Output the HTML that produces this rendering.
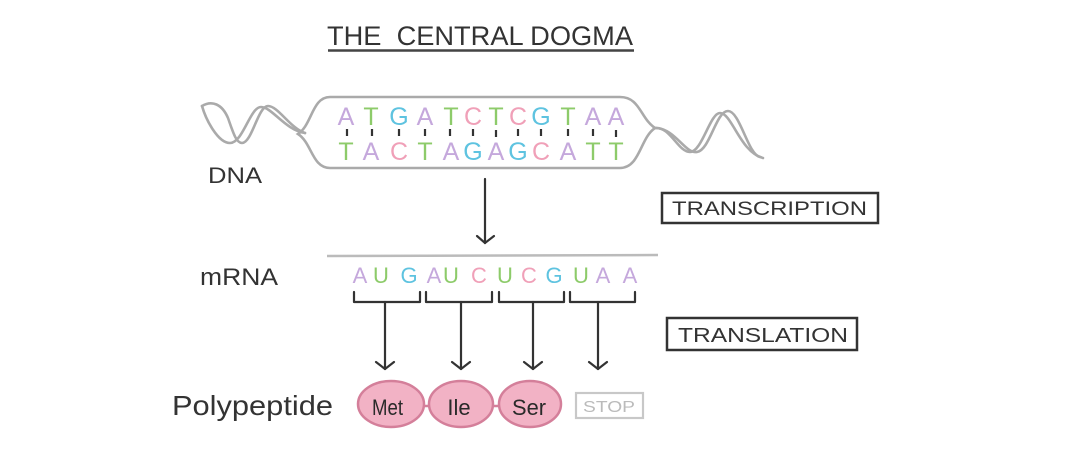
<!DOCTYPE html>
<html><head><meta charset="utf-8"><style>
html,body{margin:0;padding:0;background:#fff;}
svg{display:block;}
text{font-family:"Liberation Sans",sans-serif;}
</style></head><body>
<svg width="1076" height="452" viewBox="0 0 1076 452" xmlns="http://www.w3.org/2000/svg">
<rect width="1076" height="452" fill="#fff"/>
<!-- Title -->
<text x="327" y="45" font-size="27" fill="#333" textLength="306" lengthAdjust="spacingAndGlyphs" xml:space="preserve">THE  CENTRAL DOGMA</text>
<line x1="328" y1="50.5" x2="634" y2="50.5" stroke="#444" stroke-width="2.5"/>

<!-- DNA helices -->
<g fill="none" stroke="#aaa" stroke-width="2.6" stroke-linecap="round">
<path d="M202 106 C206 120 218 143 230 143 C243 143 250 107 261 107 C272 107 285 130 305 133"/>
<path d="M202 106 C212 100 222 104 228 118 C233 132 236 143 242 143 C252 143 258 106 268 106 C278 106 290 128 305 133"/>
<path d="M330 97 L620 97 C640 97 640 118 655 128 C640 138 640 168 620 168 L330 168 C312 168 312 143 298 134 C312 125 312 97 330 97 Z"/>
<path d="M655 128 C670 126 678 152 690 152 C702 152 710 113 720 113 C732 113 740 152 763 158"/>
<path d="M655 128 C675 128 685 154 697 152 C710 150 716 111 728 111 C740 111 748 155 760 157"/>
</g>

<!-- DNA letters -->
<g font-size="25" text-anchor="middle">
<text x="346" y="125" fill="#c5a8dc">A</text>
<text x="371" y="125" fill="#8dcb6a">T</text>
<text x="399" y="125" fill="#5ec3e0">G</text>
<text x="425" y="125" fill="#c5a8dc">A</text>
<text x="451" y="125" fill="#8dcb6a">T</text>
<text x="473" y="125" fill="#f0a0b8">C</text>
<text x="496" y="125" fill="#8dcb6a">T</text>
<text x="518" y="125" fill="#f0a0b8">C</text>
<text x="541" y="125" fill="#5ec3e0">G</text>
<text x="568" y="125" fill="#8dcb6a">T</text>
<text x="593" y="125" fill="#c5a8dc">A</text>
<text x="616" y="125" fill="#c5a8dc">A</text>

<text x="346" y="160" fill="#8dcb6a">T</text>
<text x="371" y="160" fill="#c5a8dc">A</text>
<text x="399" y="160" fill="#f0a0b8">C</text>
<text x="425" y="160" fill="#8dcb6a">T</text>
<text x="451" y="160" fill="#c5a8dc">A</text>
<text x="473" y="160" fill="#5ec3e0">G</text>
<text x="496" y="160" fill="#c5a8dc">A</text>
<text x="518" y="160" fill="#5ec3e0">G</text>
<text x="541" y="160" fill="#f0a0b8">C</text>
<text x="568" y="160" fill="#c5a8dc">A</text>
<text x="593" y="160" fill="#8dcb6a">T</text>
<text x="616" y="160" fill="#8dcb6a">T</text>
</g>
<g stroke="#333" stroke-width="2.2">
<line x1="347" y1="129" x2="347" y2="136"/>
<line x1="372" y1="129" x2="372" y2="136"/>
<line x1="399" y1="129" x2="399" y2="136"/>
<line x1="425" y1="129" x2="425" y2="136"/>
<line x1="450" y1="129" x2="450" y2="136"/>
<line x1="473" y1="129" x2="473" y2="136"/>
<line x1="496" y1="130" x2="496" y2="137"/>
<line x1="518" y1="129" x2="518" y2="136"/>
<line x1="541" y1="129" x2="541" y2="136"/>
<line x1="568" y1="129" x2="568" y2="136"/>
<line x1="593" y1="129" x2="593" y2="136"/>
<line x1="616" y1="130" x2="616" y2="137"/>
</g>

<text x="208" y="183" font-size="22" fill="#333" textLength="54" lengthAdjust="spacingAndGlyphs">DNA</text>

<!-- Transcription arrow -->
<g stroke="#333" stroke-width="2.2" fill="none" stroke-linecap="round">
<line x1="485" y1="179" x2="485" y2="243"/>
<polyline points="477,236 485,243 494,236"/>
</g>

<rect x="662" y="193" width="216" height="30" fill="none" stroke="#333" stroke-width="2.5"/>
<text x="672" y="215" font-size="19" fill="#333" textLength="195" lengthAdjust="spacingAndGlyphs">TRANSCRIPTION</text>

<!-- mRNA -->
<line x1="327" y1="256" x2="658" y2="255" stroke="#bbb" stroke-width="2.5"/>
<text x="200" y="285" font-size="24" fill="#333" textLength="78" lengthAdjust="spacingAndGlyphs">mRNA</text>
<g font-size="22" text-anchor="middle">
<text x="360" y="283" fill="#c5a8dc">A</text>
<text x="381" y="283" fill="#8dcb6a">U</text>
<text x="409" y="283" fill="#5ec3e0">G</text>
<text x="434" y="283" fill="#c5a8dc">A</text>
<text x="451" y="283" fill="#8dcb6a">U</text>
<text x="479" y="283" fill="#f0a0b8">C</text>
<text x="505" y="283" fill="#8dcb6a">U</text>
<text x="529" y="283" fill="#f0a0b8">C</text>
<text x="554" y="283" fill="#5ec3e0">G</text>
<text x="581" y="283" fill="#8dcb6a">U</text>
<text x="603" y="283" fill="#c5a8dc">A</text>
<text x="630" y="283" fill="#c5a8dc">A</text>
</g>

<!-- brackets and arrows -->
<g stroke="#333" stroke-width="2.2" fill="none" stroke-linecap="round" stroke-linejoin="round">
<polyline points="354,292 354,302 420,302 420,292"/>
<polyline points="426,292 426,302 492,302 492,292"/>
<polyline points="499,292 499,302 564,302 564,292"/>
<polyline points="570,292 570,302 635,302 635,292"/>
<line x1="385" y1="302" x2="385" y2="369"/>
<polyline points="376,362 385,369 394,362"/>
<line x1="461" y1="302" x2="461" y2="369"/>
<polyline points="452,362 461,369 470,362"/>
<line x1="533" y1="302" x2="533" y2="369"/>
<polyline points="524,362 533,369 542,362"/>
<line x1="598" y1="302" x2="598" y2="369"/>
<polyline points="589,362 598,369 607,362"/>
</g>

<rect x="667" y="318" width="190" height="32" fill="none" stroke="#333" stroke-width="2.5"/>
<text x="678" y="342" font-size="20" fill="#333" textLength="170" lengthAdjust="spacingAndGlyphs">TRANSLATION</text>

<!-- Polypeptide -->
<text x="172" y="415" font-size="28" fill="#333" textLength="161" lengthAdjust="spacingAndGlyphs">Polypeptide</text>
<g stroke="#d47f9a" stroke-width="2.5">
<line x1="423" y1="406" x2="430" y2="406"/>
<line x1="492" y1="406" x2="499" y2="406"/>
<ellipse cx="391" cy="404" rx="33" ry="23" fill="#f2b2c5"/>
<ellipse cx="461" cy="404" rx="32" ry="23" fill="#f2b2c5"/>
<ellipse cx="530" cy="404" rx="31" ry="23" fill="#f2b2c5"/>
</g>
<g font-size="22" fill="#2a2a2a">
<text x="372" y="415" textLength="31" lengthAdjust="spacingAndGlyphs">Met</text>
<text x="459" y="415" text-anchor="middle">Ile</text>
<text x="512" y="415" textLength="34" lengthAdjust="spacingAndGlyphs">Ser</text>
</g>
<rect x="576" y="393" width="67" height="25" fill="none" stroke="#c8c8c8" stroke-width="2.2"/>
<text x="609" y="412" font-size="16" fill="#bbb" text-anchor="middle" textLength="52" lengthAdjust="spacingAndGlyphs">STOP</text>
</svg>
</body></html>
